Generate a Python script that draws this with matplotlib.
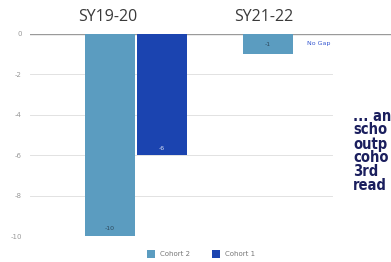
import matplotlib
matplotlib.use("Agg")
import matplotlib.pyplot as plt
from matplotlib.patches import Patch

categories = ["SY19-20", "SY21-22"]
series_names = ["Cohort 2", "Cohort 1"]
cohort2 = [-10, -1]
cohort1 = [-6, 0]
cohort2_labels = ["-10", "-1"]
cohort1_labels = ["-6", "No Gap"]
yticks = [0, -2, -4, -6, -8, -10]
side_text = ["... an", "scho", "outp", "coho", "3rd", "read"]

W, H = 391, 262
fig = plt.figure(figsize=(W / 100, H / 100), dpi=100)
fig.patch.set_facecolor("white")

left_px, right_px, top_px, bot_px = 30, 391, 34, 236
ax = fig.add_axes([left_px / W, 1 - bot_px / H, (right_px - left_px) / W, (bot_px - top_px) / H])

px = 1 / 158.5
bw = 50 * px
gap = 2 * px
c2_col = "#5b9cc0"
c1_col = "#1b44b0"

xs = list(range(len(categories)))
x2 = [x - bw / 2 - gap / 2 for x in xs]
x1 = [x + bw / 2 + gap / 2 for x in xs]
ax.bar(x2, cohort2, width=bw, color=c2_col, zorder=3)
ax.bar(x1, cohort1, width=bw, color=c1_col, zorder=3)

ax.set_xlim(-(135.5 - left_px) * px, (right_px - 135.5) * px)
ax.set_ylim(-10, 0)

# bar labels
for x, v, lab in zip(x2, cohort2, cohort2_labels):
    y = v + 0.35 if v < -2 else v / 2
    ax.text(x, y, lab, ha="center", va="center", fontsize=4.5, color="#2e4a5e", zorder=4)
for x, v, lab in zip(x1, cohort1, cohort1_labels):
    if v == 0:
        ax.text(x - bw / 2 + 12 * px, -0.45, lab, ha="left", va="center", fontsize=4.5,
                color="#3557d0", zorder=4)
    else:
        ax.text(x, v + 0.35, lab, ha="center", va="center", fontsize=4.5, color="#dfe6f5", zorder=4)

# gridlines
grid_frac = (332 - left_px) / (right_px - left_px)
for t in yticks:
    if t == 0:
        ax.axhline(t, xmin=0, xmax=1, color="#9a9a9a", lw=1.0, zorder=2)
    else:
        ax.axhline(t, xmin=0, xmax=grid_frac, color="#e2e2e2", lw=0.7, zorder=1)

ax.set_yticks(yticks)
ax.set_yticklabels([str(t) for t in yticks])
ax.tick_params(axis="y", length=0, labelsize=5, labelcolor="#999999", pad=6)
ax.set_xticks([])
for s in ax.spines.values():
    s.set_visible(False)

# category headers
for cx, lab in zip([108, 264], categories):
    fig.text(cx / W, 1 - 17 / H, lab, ha="center", va="center", fontsize=11.5,
             color="#3a3a3a", family="Open Sans")

# legend
handles = [Patch(facecolor=c2_col, edgecolor="none"), Patch(facecolor=c1_col, edgecolor="none")]
fig.legend(handles, series_names, loc="center", bbox_to_anchor=(201 / W, 1 - 254 / H), ncol=2,
           frameon=False, fontsize=5, labelcolor="#777777", handlelength=1.2, handleheight=1.2,
           columnspacing=3.2, handletextpad=0.7)

# side text
for i, line in enumerate(side_text):
    fig.text(353 / W, 1 - (116 + 14 * i) / H, line, ha="left", va="center", fontsize=10.5,
             fontweight="bold", fontstretch="condensed", family="DejaVu Sans", color="#1b1f5e")

fig.savefig("out.png", dpi=100, facecolor="white")
